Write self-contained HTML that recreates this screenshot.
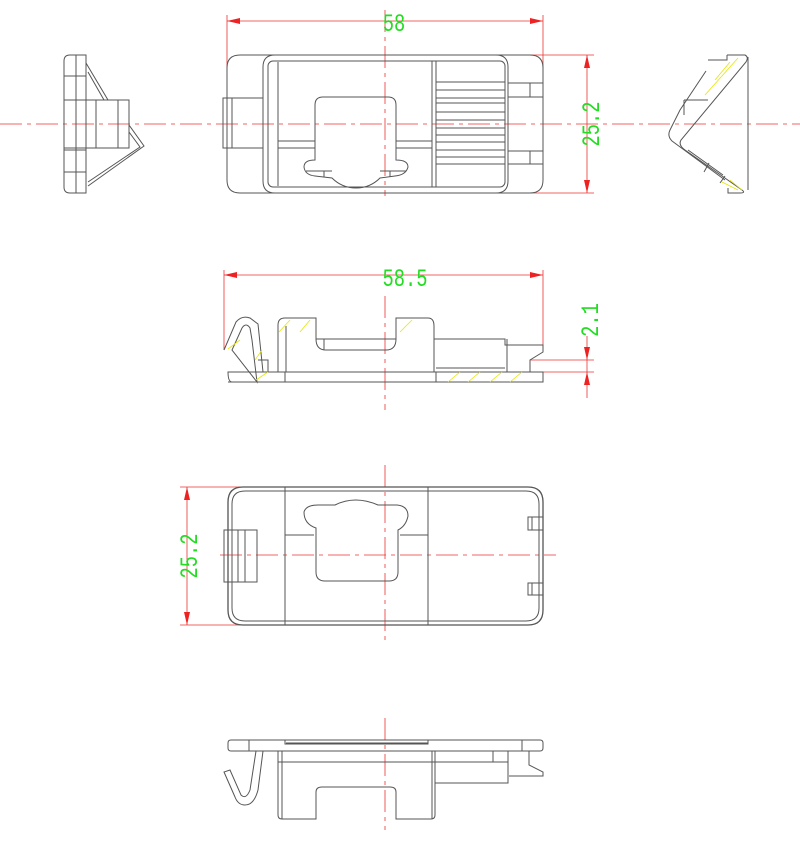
<!DOCTYPE html>
<html><head><meta charset="utf-8"><style>
html,body{margin:0;padding:0;background:#fff;}
svg{display:block}
.k{fill:none;stroke:#555;stroke-width:1}
.r{fill:none;stroke:#ee3333;stroke-width:0.8}
.c{fill:none;stroke:#ee3333;stroke-width:0.8;stroke-dasharray:22 5 4 5}
.y{stroke:#e6e600;stroke-width:0.8}
.t{fill:#22dd22;font-family:"Liberation Mono",monospace;font-size:25px}
.a{fill:#ee2222}
</style></head><body>
<svg width="800" height="864" viewBox="0 0 800 864" xmlns="http://www.w3.org/2000/svg">
<!-- ===== TOP VIEW ===== -->
<line class="c" x1="0" y1="124" x2="800" y2="124"/>
<line class="c" x1="385" y1="10" x2="385" y2="196"/>
<line class="r" x1="227" y1="21" x2="543" y2="21"/>
<line class="r" x1="227" y1="15" x2="227" y2="82"/>
<line class="r" x1="543" y1="15" x2="543" y2="82"/>
<polygon class="a" points="227,21 240,18 240,24"/>
<polygon class="a" points="543,21 530,18 530,24"/>
<text class="t" transform="translate(394,31) scale(0.75,1)" text-anchor="middle">58</text>
<line class="r" x1="508" y1="55" x2="594" y2="55"/>
<line class="r" x1="508" y1="193" x2="594" y2="193"/>
<line class="r" x1="587" y1="55" x2="587" y2="193"/>
<polygon class="a" points="587,55 584,68 590,68"/>
<polygon class="a" points="587,193 584,180 590,180"/>
<text class="t" transform="translate(599,124) rotate(-90) scale(0.75,1)" text-anchor="middle">25.2</text>
<path class="k" d="M240,55 H530 Q543,55 543,68 V180 Q543,193 530,193 H240 Q227,193 227,180 V68 Q227,55 240,55 Z"/>
<path class="k" d="M275,55 H496 Q508,55 508,67 V181 Q508,193 496,193 H275 Q263,193 263,181 V67 Q263,55 275,55 Z"/>
<rect class="k" x="268" y="61" width="237" height="126" rx="5"/>
<line class="k" x1="278" y1="62" x2="278" y2="186"/>
<rect class="k" x="223" y="98" width="40" height="50"/>
<line class="k" x1="232" y1="98" x2="232" y2="148"/>
<line class="k" x1="432" y1="61" x2="432" y2="187"/>
<line class="k" x1="436" y1="61" x2="436" y2="187"/>
<rect class="k" x="436" y="82" width="69" height="82"/>
<g class="k"><path d="M436,90H505M436,98H505M436,103H505M436,112H505M436,120H505M436,128H505M436,135H505M436,142H505M436,150H505M436,157H505"/></g>
<path class="k" d="M508,83H543M508,97H543M508,151H543M508,164H543M530,83V97M530,151V164"/>
<path class="k" d="M278,141 H315 M278,148 H315 M396,141 H432 M396,148 H432"/>
<path class="k" d="M315,160 V105 Q315,97 323,97 H388 Q396,97 396,105 V160 Q408,160 408,167 Q406,175 395,176 L380,178 Q370,188 356,188 Q342,188 332,178 L315,176 Q305,175 304,167 Q304,160 315,160 Z"/>
<path class="k" d="M306,171 H332 M380,171 H406 M324,171V177 M390,171V177"/>
<!-- ===== LEFT SIDE VIEW ===== -->
<path class="k" d="M70,55 H86 V193 H70 Q64,193 64,187 V61 Q64,55 70,55 Z"/>
<line class="k" x1="76" y1="55" x2="76" y2="193"/>
<path class="k" d="M64,76H86M64,100H96V148H64M64,150H86M64,172H86"/>
<rect class="k" x="96" y="100" width="33" height="48"/>
<line class="k" x1="118" y1="100" x2="118" y2="148"/>
<path class="k" d="M86,63 L108,100 M88,72 L104,100"/>
<path class="k" d="M129,125 L144,146 L88,186 M129,132 L140,147 L88,182"/>
<!-- ===== RIGHT SIDE VIEW ===== -->
<line class="k" x1="748" y1="57" x2="748" y2="190"/>
<path class="k" d="M727,55 H745 Q749,57 746,62 L681,140 Q678,145 685,150 L742,190 Q746,193 740,193 H728 V188"/>
<path class="k" d="M727,55 V60 L708,60 M706,71 L680,110 L670,130 Q667,136 672,141 L725,180"/>
<path class="k" d="M684,100 V115 M684,100 H700 M698,100 L708,100"/>
<path class="k" d="M688,150 L723,175 M709,163 L704,172 M725,176 L720,183"/>
<g class="y"><line x1="730" y1="62" x2="715" y2="80"/><line x1="738" y1="58" x2="705" y2="95"/><line x1="722" y1="182" x2="738" y2="190"/><line x1="730" y1="180" x2="742" y2="190"/></g>
<!-- ===== SIDE SECTION VIEW ===== -->
<line class="c" x1="385" y1="296" x2="385" y2="410"/>
<line class="r" x1="224" y1="275" x2="543" y2="275"/>
<line class="r" x1="224" y1="270" x2="224" y2="350"/>
<line class="r" x1="543" y1="270" x2="543" y2="347"/>
<polygon class="a" points="224,275 237,272 237,278"/>
<polygon class="a" points="543,275 530,272 530,278"/>
<text class="t" transform="translate(405,286) scale(0.75,1)" text-anchor="middle">58.5</text>
<line class="r" x1="530" y1="360" x2="594" y2="360"/>
<line class="r" x1="530" y1="372" x2="594" y2="372"/>
<line class="r" x1="587" y1="336" x2="587" y2="398"/>
<polygon class="a" points="587,360 584,347 590,347"/>
<polygon class="a" points="587,372 584,385 590,385"/>
<text class="t" transform="translate(598,320) rotate(-90) scale(0.75,1)" text-anchor="middle">2.1</text>
<path class="k" d="M224,350 L236,322 Q242,315 250,318 L258,324 L263,372 H228 Q228,382 232,382 H257 M257,382 L252,340 L250,328 Q246,322 242,328 L232,350 Z"/>
<path class="k" d="M258,360 H268 V372 H278 V325 Q278,318 285,318 H316 V339 Q316,350 326,350 H386 Q396,350 396,339 V318 H428 Q434,318 434,326 V339 H505 V345 H543 V352 L530,360 V372 H507 V339 M434,339 V372 M436,368 H505 M228,372 H543 V382 H505 M505,382 H436 V372 M436,382 H285 V372 H278 M286,326 V372 M324,339 V350 M316,339 H396"/>
<line class="k" x1="228" y1="382" x2="543" y2="382"/>
<g class="y"><line x1="228" y1="349" x2="240" y2="340"/><line x1="255" y1="360" x2="262" y2="350"/><line x1="256" y1="380" x2="268" y2="372"/><line x1="279" y1="332" x2="290" y2="320"/><line x1="300" y1="332" x2="310" y2="320"/><line x1="400" y1="332" x2="412" y2="320"/><line x1="448" y1="382" x2="460" y2="372"/><line x1="468" y1="382" x2="480" y2="372"/><line x1="490" y1="382" x2="502" y2="372"/><line x1="510" y1="382" x2="522" y2="372"/></g>
<!-- ===== BOTTOM VIEW ===== -->
<line class="c" x1="220" y1="555" x2="556" y2="555"/>
<line class="c" x1="385" y1="465" x2="385" y2="640"/>
<line class="r" x1="180" y1="487" x2="245" y2="487"/>
<line class="r" x1="180" y1="625" x2="245" y2="625"/>
<line class="r" x1="187" y1="487" x2="187" y2="625"/>
<polygon class="a" points="187,487 184,500 190,500"/>
<polygon class="a" points="187,625 184,612 190,612"/>
<text class="t" transform="translate(197,556) rotate(-90) scale(0.75,1)" text-anchor="middle">25.2</text>
<path class="k" d="M243,487 H528 Q543,487 543,502 V610 Q543,625 528,625 H243 Q228,625 228,610 V502 Q228,487 243,487 Z" style="stroke-width:1.3"/>
<path class="k" d="M245,491 H526 Q539,491 539,504 V608 Q539,621 526,621 H245 Q232,621 232,608 V504 Q232,491 245,491"/>
<path class="k" d="M285,487 V625 M428,487 V625 M285,535 H314 M400,535 H428"/>
<rect class="k" x="224" y="530" width="33" height="52"/>
<path class="k" d="M238,530V582M245,530V582"/>
<path class="k" d="M543,517 H528 V530 H543 M543,583 H528 V595 H543 M532,517V530M532,583V595"/>
<path class="k" d="M316,528 Q304,524 304,512 Q306,505 318,505 H335 Q355,495 378,505 H397 Q408,506 408,516 Q406,526 398,530 V572 Q398,581 389,581 H325 Q316,581 316,572 Z"/>
<!-- ===== FRONT VIEW (bottom) ===== -->
<line class="c" x1="385" y1="718" x2="385" y2="830"/>
<path class="k" d="M231,740 H540 Q543,740 543,743 V748 Q543,751 540,751 H231 Q228,751 228,748 V743 Q228,740 231,740 Z"/>
<path class="k" d="M249,740V751 M522,740V751 M285,740 V744 H428 V740 M286,743 H428"/>
<path class="k" d="M278,751 V815 Q278,819 282,819 H316 V792 Q316,787 322,787 H390 Q396,787 396,792 V819 H431 Q435,819 435,815 V751 M278,762 H508 M282,751 V819 M432,751 V819 M435,783 H508 V751 M493,751 V762 M529,751 V765 L543,772 V776 H509"/>
<path class="k" d="M263,751 L258,790 Q254,805 245,805 Q238,805 235,797 L224,772 L230,770 L241,795 Q246,800 250,790 L256,751"/>
</svg>
</body></html>
